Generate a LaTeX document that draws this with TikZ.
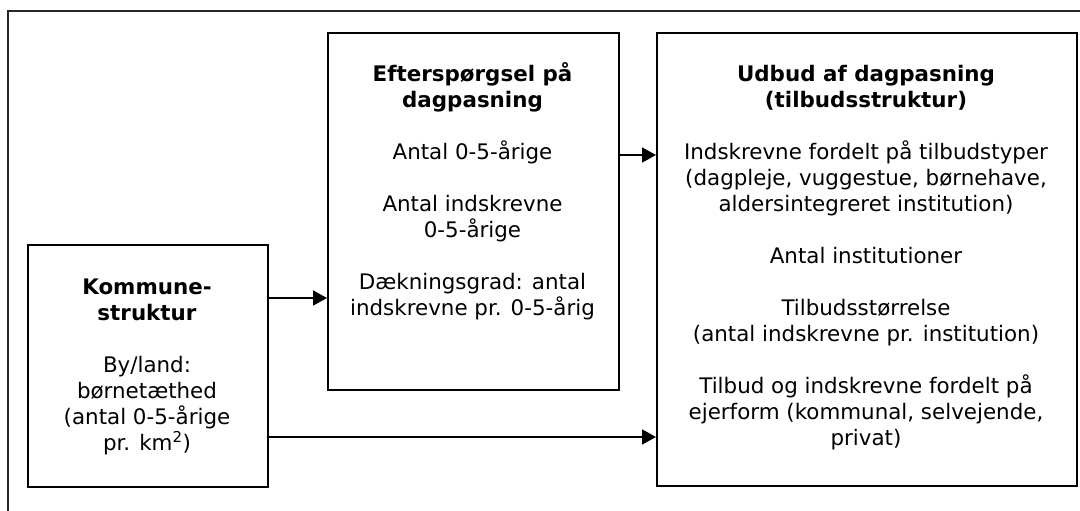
\documentclass[tikz,border=0pt]{standalone}
\usepackage{fontspec}
\setmainfont{DejaVu Sans}
\usetikzlibrary{arrows.meta}
\begin{document}
\begin{tikzpicture}[x=1pt,y=1pt,
  box/.style={draw=black,line width=2pt,rectangle,inner sep=0pt,anchor=north west},
  txt/.style={align=center,inner sep=0pt,anchor=north,font=\fontsize{21.4}{26}\selectfont},
  conn/.style={line width=1.8pt,-{Triangle[length=14pt,width=15pt]}},
  frame/.style={line width=2pt,draw=black!85}]
\useasboundingbox (0,0) rectangle (1080,-511);
\draw[frame] (8,-511) -- (8,-11) -- (1080,-11);
\node[box,minimum width=240pt,minimum height=242pt] (k) at (27,-244) {};
\node[box,minimum width=291pt,minimum height=357pt] (m) at (327,-32) {};
\node[box,minimum width=420pt,minimum height=453pt] (u) at (656,-32) {};
\node[txt] (kt) at (147,-274) {\rule{0pt}{20pt}\textbf{Kommune-}\\ \textbf{struktur}\\[26pt]
  By/land:\\ børnetæthed\\ (antal 0-5-årige\\ pr. km\textsuperscript{2})};
\node[txt] (mt) at (472.5,-61) {\rule{0pt}{20pt}\textbf{Efterspørgsel på}\\ \textbf{dagpasning}\\[26pt]
  Antal 0-5-årige\\[26pt]
  Antal indskrevne\\ 0-5-årige\\[26pt]
  Dækningsgrad: antal\\ indskrevne pr. 0-5-årig};
\node[txt] (ut) at (866,-61) {\rule{0pt}{20pt}\textbf{Udbud af dagpasning}\\ \textbf{(tilbudsstruktur)}\\[26pt]
  Indskrevne fordelt på tilbudstyper\\ (dagpleje, vuggestue, børnehave,\\ aldersintegreret institution)\\[26pt]
  Antal institutioner\\[26pt]
  Tilbudsstørrelse\\ (antal indskrevne pr. institution)\\[26pt]
  Tilbud og indskrevne fordelt på\\ ejerform (kommunal, selvejende,\\ privat)};
\coordinate (a1) at (0,-298);
\coordinate (a2) at (0,-155);
\coordinate (a3) at (0,-437);
\draw[conn] (k.east |- a1) -- (m.west |- a1);
\draw[conn] (m.east |- a2) -- (u.west |- a2);
\draw[conn] (k.east |- a3) -- (u.west |- a3);
\end{tikzpicture}
\end{document}
